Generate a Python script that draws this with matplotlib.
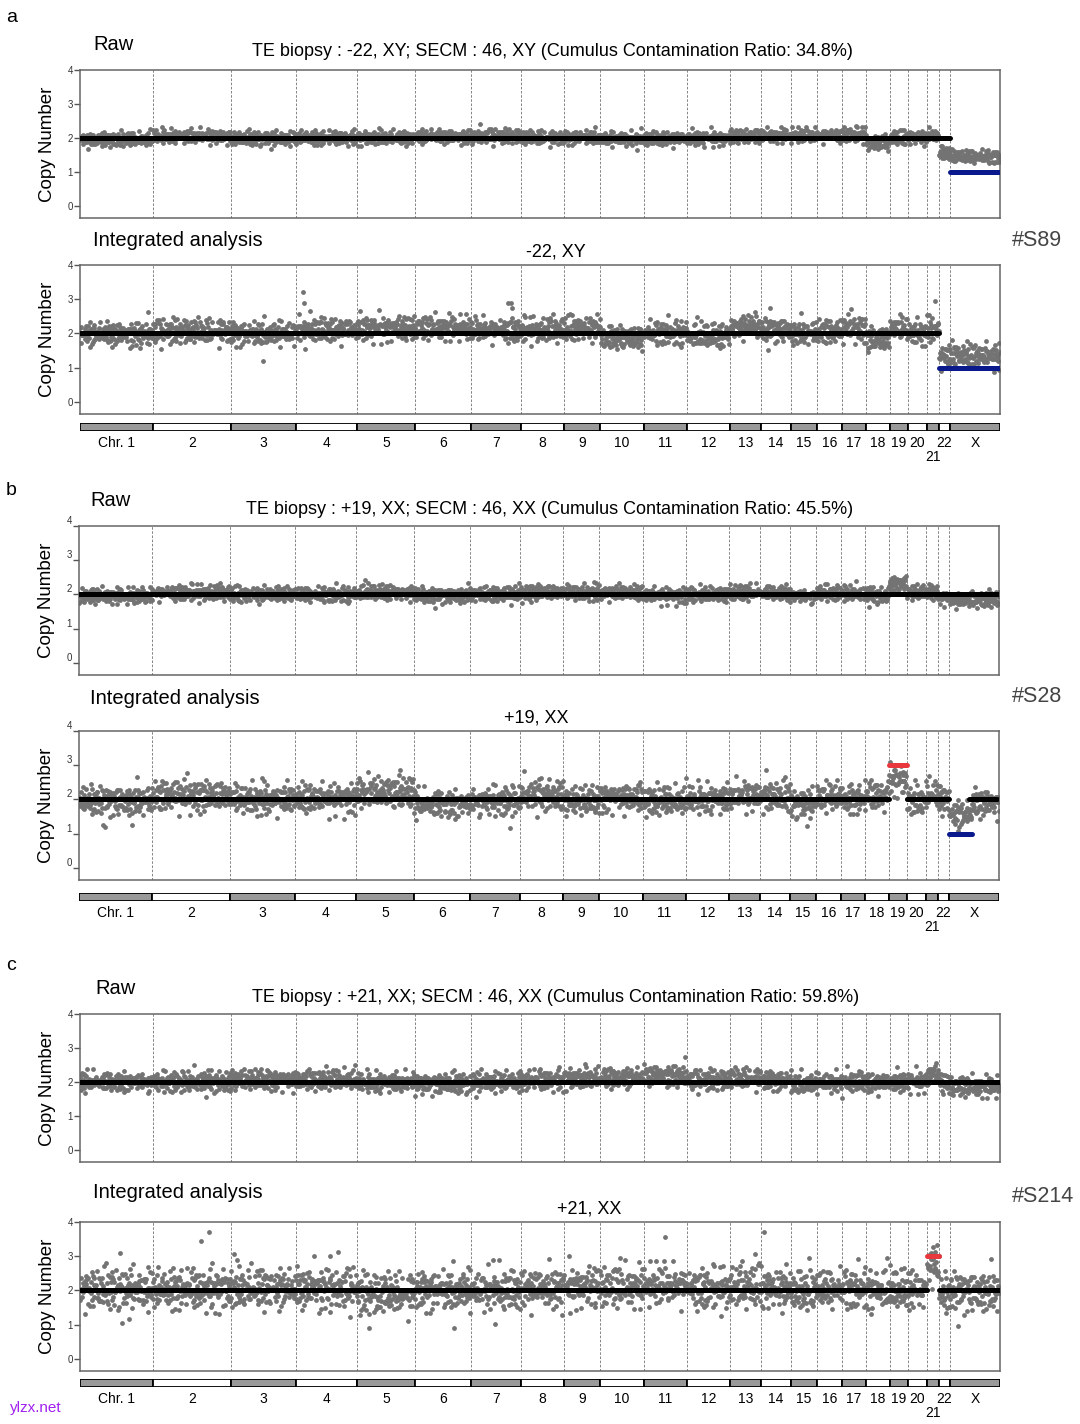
import matplotlib
matplotlib.use("Agg")
from matplotlib import pyplot
from matplotlib.patches import Rectangle
import numpy as np

pyplot.rcParams['font.family'] = ['Liberation Sans', 'DejaVu Sans']

chrom_names = ['Chr. 1', '2', '3', '4', '5', '6', '7', '8', '9', '10', '11', '12',
               '13', '14', '15', '16', '17', '18', '19', '20', '21', '22', 'X']
# number of bins per chromosome
chrom_bins = [154, 164, 137, 130, 122, 118, 105, 92, 76, 91, 91, 91,
              66, 63, 55, 53, 50, 50, 38, 41, 25, 24, 105]

# fixed scatter pattern (two tables of prime length, combined)
noise_a = [0.12, -0.85, 1.34, -0.27, 0.56, -1.62, 0.03, 0.91, -0.44, 1.87,
           -0.09, -1.15, 0.68, 0.25, -0.72, 1.05, -2.31, 0.41, -0.33, 0.79,
           -0.58, 1.49, -0.16, 0.07, -1.03, 2.12, -0.64, 0.33, -0.21, 1.18,
           -1.37, 0.52, 0.18, -0.92, 0.87, -0.05, -1.78, 0.61, 1.26, -0.48,
           0.29, -0.11, 0.95, -1.24, 0.44, -0.69, 1.63, -0.37, 0.02, -0.81,
           2.48, -0.26, 0.71, -1.49, 0.15, 0.38, -0.57, 1.11, -0.95, 0.22, -0.14]
noise_b = [-0.41, 0.93, -1.21, 0.17, 0.64, -0.06, 1.52, -0.78, 0.31, -1.94,
           0.48, 0.09, -0.55, 1.07, -0.29, 0.76, -1.08, 0.24, 1.91, -0.63,
           -0.18, 0.58, -1.41, 0.37, 0.83, -0.34, -0.97, 1.28, 0.05, -0.52,
           0.69, -2.05, 0.19, 1.39, -0.23, -0.74, 0.44, 0.98, -1.16, 0.11,
           -0.39, 1.71, -0.87, 0.27, 0.51, -1.57, 0.72, -0.12, 2.21, -0.46,
           0.35, -0.67, 0.84]

# mean copy number per chromosome, per panel
raw_a_levels = [1.95, 2.05, 1.98, 2.0, 2.0, 2.04, 2.05, 2.0, 2.02, 1.97, 1.98, 2.0,
                2.05, 2.06, 2.07, 2.08, 2.1, 1.85, 2.0, 2.02, 2.06, 1.55, 1.45]
int_a_levels = [1.98, 2.05, 2.0, 2.1, 2.15, 2.15, 2.1, 2.1, 2.15, 1.85, 2.02, 1.92,
                2.2, 2.1, 2.0, 2.05, 2.15, 1.82, 2.15, 2.02, 2.1, 1.35, 1.35]
raw_b_levels = [1.95, 2.05, 2.0, 2.0, 2.05, 1.97, 2.0, 2.06, 2.05, 2.05, 1.97, 2.0,
                2.05, 2.05, 1.95, 2.05, 2.03, 1.97, 2.3, 2.05, 2.08, 1.9, 1.85]
int_b_levels = [1.95, 2.1, 2.0, 2.02, 2.2, 1.85, 1.95, 2.12, 1.95, 2.05, 1.95, 2.0,
                2.1, 2.08, 1.85, 2.08, 2.0, 2.12, 2.55, 1.95, 2.15, 2.0, 1.88]
raw_c_levels = [2.0, 2.0, 2.06, 2.06, 1.98, 1.95, 2.0, 2.05, 2.1, 2.12, 2.2, 2.05,
                2.1, 2.05, 1.95, 1.98, 2.0, 1.97, 2.0, 2.02, 2.25, 1.95, 1.85]
int_c_levels = [2.02, 2.02, 2.05, 2.05, 1.88, 2.0, 1.98, 2.05, 2.1, 2.08, 2.15, 2.05,
                2.1, 2.05, 1.95, 2.05, 2.05, 2.0, 2.0, 2.0, 2.75, 1.85, 1.95]

raw_a_spread = 0.11
int_a_spread = 0.19
raw_b_spread = 0.12
int_b_spread = 0.23
raw_c_spread = 0.16
int_c_spread = 0.32

# sub-chromosome level changes: (start, end, level), positions in chromosome units
int_b_shifts = [(22.0, 22.45, 1.55)]

# isolated outlier bins: (position, copy number)
int_a_outliers = [(3.12, 3.2), (3.14, 2.9), (2.5, 1.2), (6.75, 2.9), (6.8, 2.9), (6.82, 2.75),
                  (20.7, 2.95), (13.3, 2.75)]
int_b_outliers = [(0.35, 1.2), (0.73, 1.25), (6.8, 1.15), (4.75, 2.85), (13.2, 2.85)]
int_c_outliers = [(0.55, 3.1), (0.58, 1.05), (1.62, 3.45), (1.72, 3.7), (2.05, 3.05),
                  (3.3, 3.0), (3.55, 3.0), (5.7, 0.9), (6.45, 2.9), (4.2, 0.9),
                  (10.5, 3.55), (13.1, 3.7), (12.8, 3.05), (9.45, 2.95), (14.7, 2.95)]

# copy-number segments: (start, end, copy number), positions in chromosome units
raw_a_segments = [(0, 22, 2), (22, 23, 1)]
int_a_segments = [(0, 21, 2), (21, 23, 1)]
raw_b_segments = [(0, 23, 2)]
int_b_segments = [(0, 18, 2), (18, 19, 3), (19, 22, 2), (22, 22.45, 1), (22.4, 22.95, 2)]
raw_c_segments = [(0, 23, 2)]
int_c_segments = [(0, 20, 2), (20, 21, 3), (21, 23, 2)]

starts = np.concatenate([[0], np.cumsum(chrom_bins)])
total = starts[-1]
W, H = 1080, 1424


def to_bin(pos):
    k = min(int(pos), 22)
    return starts[k] + (pos - k) * chrom_bins[k]


def fig_box(left, right, top, bottom):
    return [left / W, 1 - bottom / H, (right - left) / W, (bottom - top) / H]


def plot_panel(fig, box, levels, spread, segments, offset, shifts=(), outliers=(), raised=False):
    ax = fig.add_axes(box)
    chrom_of_bin = np.repeat(np.arange(23), chrom_bins)
    y = np.array(levels)[chrom_of_bin]
    for s, e, lev in shifts:
        y[int(to_bin(s)):int(to_bin(e))] = lev
    idx = np.arange(total) + offset
    noise = (np.array(noise_a)[idx % len(noise_a)] + np.array(noise_b)[idx % len(noise_b)]) / np.sqrt(2)
    y = y + spread * noise
    ax.scatter(np.arange(total) + 0.5, y, s=12, color='#737373', linewidths=0, zorder=2)
    if outliers:
        ox = [to_bin(p) for p, v in outliers]
        oy = [v for p, v in outliers]
        ax.scatter(ox, oy, s=12, color='#737373', linewidths=0, zorder=2)

    for b in starts[1:-1]:
        ax.axvline(b, color='#707070', lw=0.6, ls=(0, (3, 2)), zorder=1)

    colors = {1: '#0a1a8c', 2: 'black', 3: '#e8383d'}
    for s, e, v in segments:
        ax.plot([to_bin(s), to_bin(e)], [v, v], color=colors[v], lw=3.6,
                solid_capstyle='round', zorder=3)

    ax.set_xlim(0, total)
    ax.set_ylim(-0.36, 4.0)
    ax.set_xticks([])
    ax.set_yticks([0, 1, 2, 3, 4])
    ax.tick_params(axis='y', labelsize=7, length=4, width=1, color='#555555',
                   labelcolor='#333333', pad=1)
    if raised:
        for lab in ax.get_yticklabels():
            lab.set_verticalalignment('bottom')
    for sp in ax.spines.values():
        sp.set_color('#666666')
        sp.set_linewidth(1.1)
    ax.set_ylabel('Copy Number', fontsize=13.5)
    ax.yaxis.set_label_coords(-0.026, 0.5)
    return ax


def plot_chrom_bar(fig, box):
    ax = fig.add_axes(box)
    for i, n in enumerate(chrom_bins):
        face = '#999999' if i % 2 == 0 else 'white'
        ax.add_patch(Rectangle((starts[i], 0), n, 1, facecolor=face, edgecolor='black', lw=1.3))
        cx = starts[i] + n / 2
        ly = -3.3 if chrom_names[i] == '21' else -1.5
        ax.text(cx, ly, chrom_names[i], ha='center', va='center', fontsize=10)
    ax.set_xlim(0, total)
    ax.set_ylim(0, 1)
    ax.axis('off')


def ftext(fig, x, y, s, **kw):
    fig.text(x / W, 1 - y / H, s, va='center', **kw)


fig = pyplot.figure(figsize=(10.8, 14.24), dpi=100)

# panel a
plot_panel(fig, fig_box(80, 1000, 70, 218), raw_a_levels, raw_a_spread, raw_a_segments, 0)
plot_panel(fig, fig_box(80, 1000, 265, 414), int_a_levels, int_a_spread, int_a_segments, 700,
           outliers=int_a_outliers)
plot_chrom_bar(fig, fig_box(80, 1000, 423, 431))
ftext(fig, 6, 18, 'a', fontsize=14)
ftext(fig, 93, 45, 'Raw', fontsize=14.5)
ftext(fig, 552, 52, 'TE biopsy : -22, XY; SECM : 46, XY (Cumulus Contamination Ratio: 34.8%)',
      fontsize=13, ha='center')
ftext(fig, 93, 240, 'Integrated analysis', fontsize=14.5)
ftext(fig, 556, 252, '-22, XY', fontsize=13, ha='center')
ftext(fig, 1037, 241, '#S89', fontsize=15.5, ha='center', color='#444444')

# panel b
plot_panel(fig, fig_box(79, 999, 526, 675), raw_b_levels, raw_b_spread, raw_b_segments, 1400,
           raised=True)
plot_panel(fig, fig_box(79, 999, 731, 880), int_b_levels, int_b_spread, int_b_segments, 2100,
           shifts=int_b_shifts, outliers=int_b_outliers, raised=True)
plot_chrom_bar(fig, fig_box(79, 999, 893, 901))
ftext(fig, 6, 491, 'b', fontsize=14)
ftext(fig, 90, 500, 'Raw', fontsize=14.5)
ftext(fig, 550, 509, 'TE biopsy : +19, XX; SECM : 46, XX (Cumulus Contamination Ratio: 45.5%)',
      fontsize=13, ha='center')
ftext(fig, 90, 698, 'Integrated analysis', fontsize=14.5)
ftext(fig, 536, 718, '+19, XX', fontsize=13, ha='center')
ftext(fig, 1037, 697, '#S28', fontsize=15.5, ha='center', color='#444444')

# panel c
plot_panel(fig, fig_box(80, 1000, 1014, 1162), raw_c_levels, raw_c_spread, raw_c_segments, 2800)
plot_panel(fig, fig_box(80, 1000, 1222, 1371), int_c_levels, int_c_spread, int_c_segments, 300,
           outliers=int_c_outliers)
plot_chrom_bar(fig, fig_box(80, 1000, 1379, 1387))
ftext(fig, 6, 966, 'c', fontsize=14)
ftext(fig, 95, 988, 'Raw', fontsize=14.5)
ftext(fig, 556, 997, 'TE biopsy : +21, XX; SECM : 46, XX (Cumulus Contamination Ratio: 59.8%)',
      fontsize=13, ha='center')
ftext(fig, 93, 1193, 'Integrated analysis', fontsize=14.5)
ftext(fig, 589, 1209, '+21, XX', fontsize=13, ha='center')
ftext(fig, 1043, 1196, '#S214', fontsize=15.5, ha='center', color='#444444')

ftext(fig, 10, 1408, 'ylzx.net', fontsize=11, color='#a020f0')

pyplot.savefig('out.png', dpi=100)
